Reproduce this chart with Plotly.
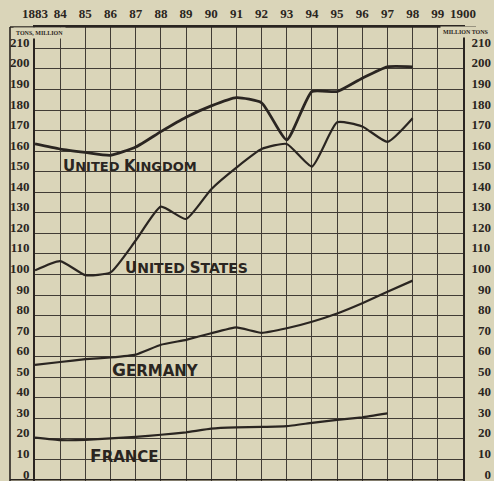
import plotly.graph_objects as go

# Coal output, million tons
years = list(range(1883, 1899))
uk = [163.5, 161, 159.4, 158, 162, 169.5, 176.5, 182, 186, 183.5, 165.5, 189, 189, 195.5, 201, 201]
us = [102, 106.5, 99.7, 101, 116.5, 133, 127, 141.5, 152, 161, 163.5, 152.5, 174, 172, 164.5, 176]
germany = [56, 57.4, 58.8, 59.6, 61, 65.8, 68.2, 71.4, 74.2, 71.6, 73.8, 77, 81, 86, 91.6, 97]
france_years = list(range(1883, 1898))
france = [20.6, 19.4, 19.5, 20.2, 21, 22, 23.2, 25, 25.6, 25.8, 26.2, 27.8, 29.2, 30.5, 32.4]

year_ticks = list(range(1883, 1901))
year_labels = ["1883", "84", "85", "86", "87", "88", "89", "90", "91", "92",
               "93", "94", "95", "96", "97", "98", "99", "1900"]
ton_ticks = list(range(0, 220, 10))
ton_labels_left = [str(v) for v in ton_ticks]
ton_labels_right = [("\u2007" * (3 - len(str(v)))) + str(v) for v in ton_ticks]

# (words, x, y, capital size, small-cap size)
series_labels = [
    ("UNITED KINGDOM", 1886.77, 152.8, 15, 13),
    ("UNITED STATES", 1889.02, 102.9, 15, 14),
    ("GERMANY", 1887.77, 53.3, 17, 15),
    ("FRANCE", 1886.57, 11.9, 17, 15),
]

BG = "#dad5b9"
INK = "#2a2521"
GRID = "#413c35"
W, H = 494, 481
x0_px, x1_px, top_px = 35, 463, 27


def small_caps(words, big, small):
    parts = []
    for word in words.split(" "):
        parts.append(f"<span style='font-size:{big}px'>{word[0]}</span>"
                     f"<span style='font-size:{small}px'>{word[1:]}</span>")
    return " ".join(parts)


fig = go.Figure()
line_style = dict(color=INK, shape="spline", smoothing=0.5)
fig.add_trace(go.Scatter(x=years, y=uk, mode="lines", line=dict(width=2.8, **line_style)))
fig.add_trace(go.Scatter(x=years, y=us, mode="lines", line=dict(width=2.2, **line_style)))
fig.add_trace(go.Scatter(x=years, y=germany, mode="lines",
                         line=dict(width=2.2, color=INK, shape="spline", smoothing=0.3)))
fig.add_trace(go.Scatter(x=france_years, y=france, mode="lines", yaxis="y2",
                         line=dict(width=2.2, color=INK, shape="spline", smoothing=0.3)))

tick_font = dict(family="Liberation Serif", size=13, color=INK, weight="bold")

for text, x, y, big, small in series_labels:
    fig.add_annotation(x=x, y=y, text=small_caps(text, big, small), showarrow=False,
                       font=dict(family="DejaVu Sans", size=small, color=INK, weight="bold"))

fig.add_annotation(xref="paper", yref="paper", x=13 / W, y=1 - 33 / H, xanchor="left",
                   yanchor="middle", text="TONS, MILLION", showarrow=False,
                   bgcolor=BG, borderpad=2,
                   font=dict(family="Liberation Serif", size=6, color=INK, weight="bold"))
fig.add_annotation(xref="paper", yref="paper", x=440 / W, y=1 - 32 / H, xanchor="left",
                   yanchor="middle", text="MILLION TONS", showarrow=False,
                   bgcolor=BG, borderpad=2,
                   font=dict(family="Liberation Serif", size=6, color=INK, weight="bold"))

# outer frame round the left label column and along the foot
frame = dict(color=INK, width=1.6)
fig.add_shape(type="line", xref="paper", yref="paper", x0=10 / W, x1=10 / W,
              y0=0, y1=1 - top_px / H, line=frame)
fig.add_shape(type="line", xref="paper", yref="paper", x0=10 / W, x1=476 / W,
              y0=1 - top_px / H, y1=1 - top_px / H, line=frame)
fig.add_shape(type="line", xref="paper", yref="paper", x0=10 / W, x1=x1_px / W,
              y0=1.2 / H, y1=1.2 / H, line=frame)

fig.update_layout(
    template="none",
    width=W, height=H, margin=dict(l=0, r=0, t=0, b=0, pad=0),
    paper_bgcolor=BG, plot_bgcolor=BG, showlegend=False,
    xaxis=dict(domain=[x0_px / W, x1_px / W], range=[1883, 1900], side="top",
               tickvals=year_ticks, ticktext=year_labels, ticks="",
               showgrid=True, gridcolor=GRID, gridwidth=1.4,
               showline=True, mirror=False, linecolor=INK, linewidth=1.6,
               zeroline=False, tickfont=tick_font, ticklabelstandoff=2,
               automargin=False, ticklabeloverflow="allow"),
    yaxis=dict(domain=[0, 1 - top_px / H], range=[-0.5, 220.4],
               tickvals=ton_ticks, ticktext=ton_labels_left, ticks="",
               showgrid=True, gridcolor=GRID, gridwidth=1.4,
               showline=True, linecolor=INK, linewidth=1.6, zeroline=False,
               tickfont=tick_font, ticklabelshift=-6, ticklabelstandoff=1,
               automargin=False, ticklabeloverflow="allow"),
    yaxis2=dict(overlaying="y", matches="y", side="right", range=[-0.5, 220.4],
                tickvals=ton_ticks, ticktext=ton_labels_right, ticks="",
                showgrid=False, showline=True, linecolor=INK, linewidth=1.6,
                zeroline=False, tickfont=tick_font, ticklabelshift=-6,
                ticklabelstandoff=4, automargin=False, ticklabeloverflow="allow"),
)

fig.write_html("out.html")
